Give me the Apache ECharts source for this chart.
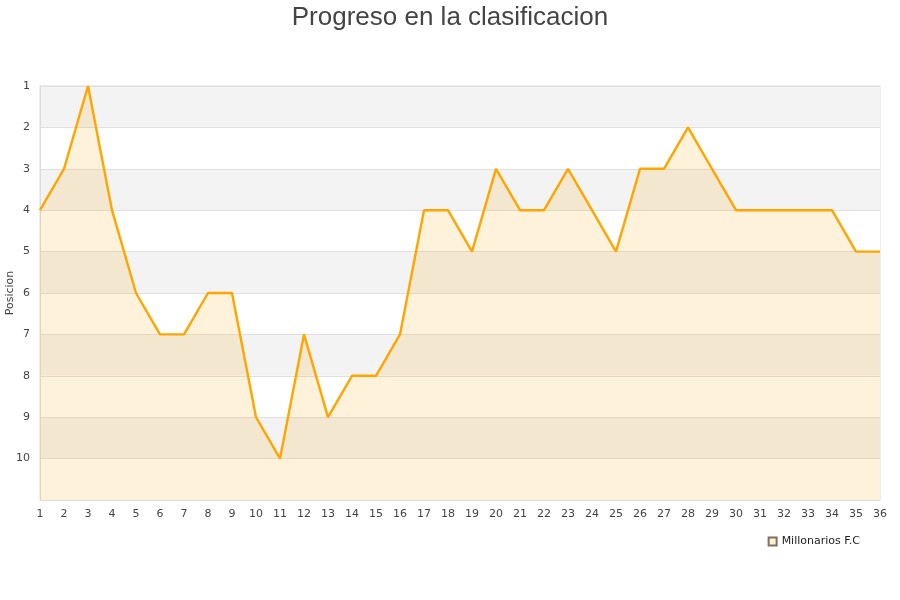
<!DOCTYPE html>
<html><head><meta charset="utf-8">
<script src="https://cdn.jsdelivr.net/npm/echarts@6/dist/echarts.min.js"></script>
<style>html,body{margin:0;padding:0;background:#fff}#c{width:900px;height:600px}</style>
</head><body><div id="c"></div>
<script>
const jornadas = ['1','2','3','4','5','6','7','8','9','10','11','12','13','14','15','16','17','18','19','20','21','22','23','24','25','26','27','28','29','30','31','32','33','34','35','36'];
const posiciones = [4,3,1,4,6,7,7,6,6,9,10,7,9,8,8,7,4,4,5,3,4,4,3,4,5,3,3,2,3,4,4,4,4,4,5,5];
const yTicks = [1,2,3,4,5,6,7,8,9,10];
const seriesName = 'Millonarios F.C';
const titleText = 'Progreso en la clasificacion';
const yName = 'Posicion';

const chart = echarts.init(document.getElementById('c'), null, {renderer:'canvas'});
chart.setOption({
  animation:false,
  backgroundColor:'#fff',
  title:{text:titleText,left:'center',top:0,textStyle:{fontFamily:'Liberation Sans, Arial, sans-serif',fontSize:26,fontWeight:'normal',color:'#444'}},
  legend:{data:[{name:seriesName,icon:'rect'}],right:35,top:531,itemWidth:8,itemHeight:8,itemGap:8,
    textStyle:{fontFamily:'DejaVu Sans, sans-serif',fontSize:11,color:'#222'}},
  grid:{left:40,right:20,top:86,bottom:100,containLabel:false,outerBoundsMode:'none',show:true,borderColor:'#ddd',borderWidth:1},
  xAxis:{type:'category',data:jornadas,boundaryGap:false,
    axisLine:{show:true,lineStyle:{color:'#ddd'}},axisTick:{show:false},
    axisLabel:{color:'#444',fontFamily:'DejaVu Sans, sans-serif',fontSize:11,margin:9,interval:0},
    splitLine:{show:false}},
  yAxis:{type:'value',inverse:true,min:1,max:11,interval:1,
    name:yName,nameLocation:'middle',nameGap:24,nameRotate:90,nameMoveOverlap:false,
    nameTextStyle:{color:'#444',fontFamily:'DejaVu Sans, sans-serif',fontSize:11},
    axisLine:{show:true,lineStyle:{color:'#ddd'}},axisTick:{show:false},
    axisLabel:{color:'#444',fontFamily:'DejaVu Sans, sans-serif',fontSize:11,margin:10,
      formatter:function(v){return yTicks.indexOf(v)>=0?String(v):'';}},
    splitLine:{show:true,lineStyle:{color:'#e0e0e0',width:1}},
    splitArea:{show:true,areaStyle:{color:['#f3f3f3','#ffffff']}}},
  series:[{name:seriesName,type:'line',data:posiciones,symbol:'none',
    lineStyle:{color:'#ffa500',width:2.4},
    itemStyle:{color:'#fff0d0',borderColor:'#807060',borderWidth:1},
    areaStyle:{color:'rgba(255,165,0,0.2)',origin:'end'}}]
});
</script></body></html>
